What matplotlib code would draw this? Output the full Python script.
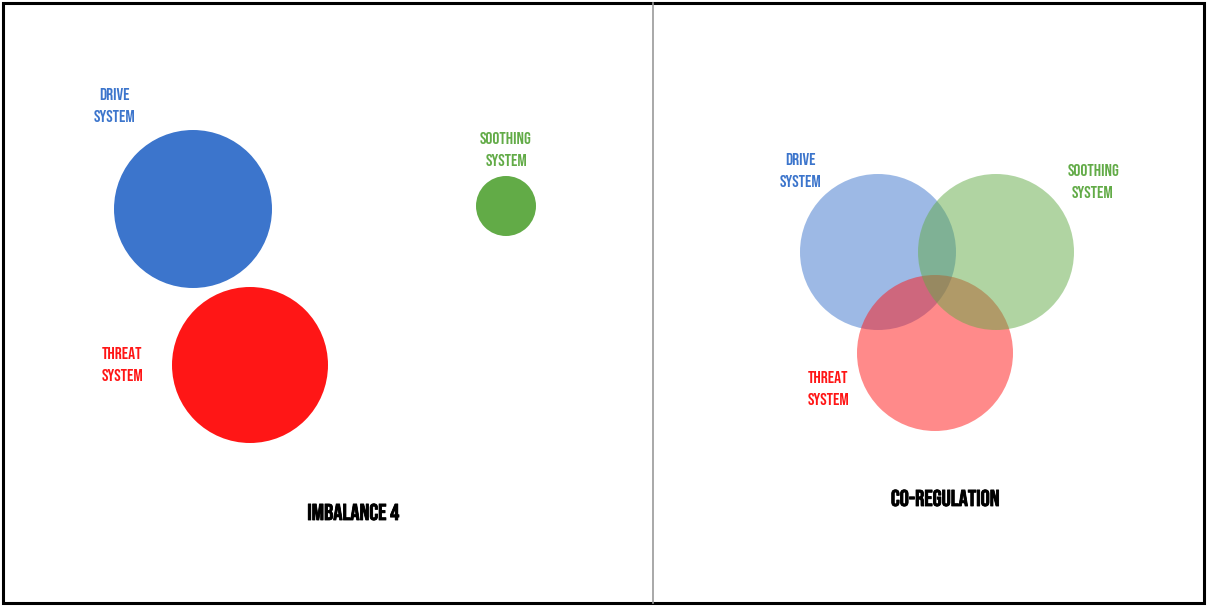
import matplotlib
matplotlib.use("Agg")
import matplotlib.pyplot as plt
import matplotlib.patheffects as pe
from matplotlib.patches import Circle, Rectangle

# circles: (x, y, radius) in pixel space of the 1207x606 picture
systems = ["DRIVE", "THREAT", "SOOTHING"]
colors = ["#3c75cc", "#ff1616", "#62ab47"]

left_centers = [(193, 209), (250, 365), (506, 206)]
left_radius = [79, 78, 30]
left_labels = [(114, 105), (122, 364), (506, 149)]

right_centers = [(878, 252), (935, 353), (996, 252)]
right_radius = [78, 78, 78]
right_labels = [(800, 170), (828, 388), (1093, 181)]

titles = ["IMBALANCE 4", "CO-REGULATION"]
title_pos = [(353, 512), (945, 498)]

font = ["Bebas Neue", "DejaVu Sans"]

fig = plt.figure(figsize=(12.07, 6.06), dpi=100)
ax = fig.add_axes([0, 0, 1, 1])
ax.set_xlim(0, 1207)
ax.set_ylim(606, 0)
ax.set_aspect("equal")
ax.axis("off")

for (cx, cy), r, c in zip(left_centers, left_radius, colors):
    ax.add_patch(Circle((cx, cy), r, color=c, lw=0))
for (cx, cy), r, c in zip(right_centers, right_radius, colors):
    ax.add_patch(Circle((cx, cy), r, color=c, alpha=0.5, lw=0))

for pos_list in [left_labels, right_labels]:
    for (x, y), name, c in zip(pos_list, systems, colors):
        ax.text(x, y, name + "\nSYSTEM", color=c, ha="center", va="center",
                fontsize=12.5, family=font, linespacing=1.9)

for (x, y), t in zip(title_pos, titles):
    ax.text(x, y, t, ha="center", va="center", fontsize=16.5,
            family=font, color="black",
            path_effects=[pe.withStroke(linewidth=0.6, foreground="black")])

# frame and divider
ax.add_patch(Rectangle((3, 3), 1201, 600, fill=False, ec="black", lw=2.2))
ax.plot([653, 653], [3, 603], color="#999999", lw=1.2)

fig.savefig("out.png", dpi=100)
